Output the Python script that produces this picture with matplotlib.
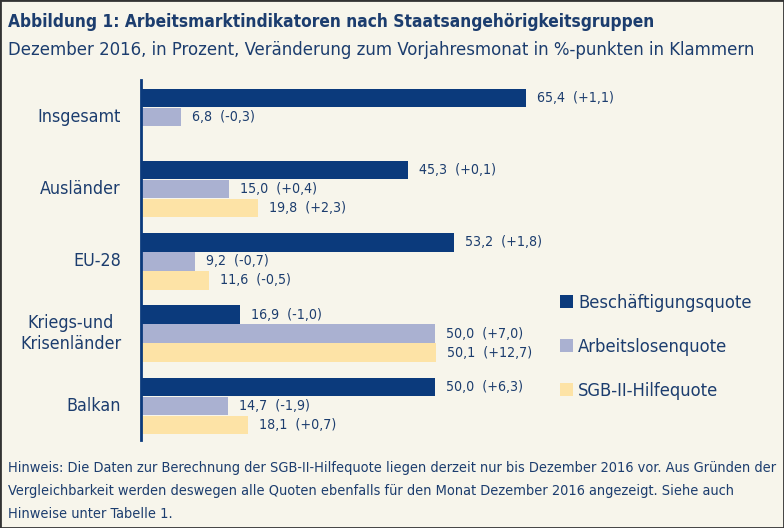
import matplotlib
matplotlib.use("Agg")
import matplotlib.pyplot as plt
from matplotlib.patches import Patch, Rectangle
from matplotlib import font_manager

categories = ["Insgesamt", "Ausländer", "EU-28", "Kriegs-und\nKrisenländer", "Balkan"]
series_names = ["Beschäftigungsquote", "Arbeitslosenquote", "SGB-II-Hilfequote"]
beschaeftigung = [65.4, 45.3, 53.2, 16.9, 50.0]
beschaeftigung_chg = [1.1, 0.1, 1.8, -1.0, 6.3]
arbeitslos = [6.8, 15.0, 9.2, 50.0, 14.7]
arbeitslos_chg = [-0.3, 0.4, -0.7, 7.0, -1.9]
sgb = [None, 19.8, 11.6, 50.1, 18.1]
sgb_chg = [None, 2.3, -0.5, 12.7, 0.7]

title = "Abbildung 1: Arbeitsmarktindikatoren nach Staatsangehörigkeitsgruppen"
subtitle = "Dezember 2016, in Prozent, Veränderung zum Vorjahresmonat in %-punkten in Klammern"
note_lines = ["Hinweis: Die Daten zur Berechnung der SGB-II-Hilfequote liegen derzeit nur bis Dezember 2016 vor. Aus Gründen der",
              "Vergleichbarkeit werden deswegen alle Quoten ebenfalls für den Monat Dezember 2016 angezeigt. Siehe auch",
              "Hinweise unter Tabelle 1."]

colors = ["#0b3a7c", "#aab1d1", "#fde3a6"]
txt = "#1c3d6e"
bg = "#f7f5eb"

entries = font_manager.fontManager.ttflist
stretch = "normal"
fam = "Lato"
if any(f.name == "Liberation Sans Narrow" for f in entries):
    fam = "Liberation Sans Narrow"
elif any(f.name == "DejaVu Sans" and str(f.stretch) in ("condensed", "semi-condensed") for f in entries):
    fam = "DejaVu Sans"
    stretch = "condensed"
plt.rcParams["font.family"] = [fam, "DejaVu Sans"]
plt.rcParams["font.stretch"] = stretch

fig = plt.figure(figsize=(7.84, 5.28), dpi=100, facecolor=bg)
W, H = 784, 528
renderer = fig.canvas.get_renderer()

def fit_size(s, target_w, size0=10, **kw):
    t = fig.text(0, 0, s, fontsize=size0, **kw)
    w = t.get_window_extent(renderer=renderer).width
    t.remove()
    return size0 * target_w / w

ax_l, ax_r, ax_t, ax_b = 141, 560, 80, 440
ax = fig.add_axes([ax_l / W, 1 - ax_b / H, (ax_r - ax_l) / W, (ax_b - ax_t) / H])
ax.set_facecolor(bg)
px_per_unit = (526 - 141) / 65.4
ax.set_xlim(0, (ax_r - ax_l) / px_per_unit)
ax.set_ylim((ax_b - 98) / 19, -(98 - ax_t) / 19)

gstep = 3.8
series = [(beschaeftigung, beschaeftigung_chg), (arbeitslos, arbeitslos_chg), (sgb, sgb_chg)]

def fmt(v):
    return f"{v:.1f}".replace(".", ",")

def fmtc(v):
    return f"{v:+.1f}".replace(".", ",")

val_fs = fit_size("65,4  (+1,1)", 77)
cat_fs = fit_size("Insgesamt", 83)
leg_fs = fit_size("Beschäftigungsquote", 174)
title_fs = fit_size(title, 642, fontweight="bold")
sub_fs = fit_size(subtitle, 744)
note_fs = fit_size(note_lines[0], 769)

offset = 11 / px_per_unit
for g, cat in enumerate(categories):
    for j, (vals, chg) in enumerate(series):
        v = vals[g]
        if v is None:
            continue
        y = g * gstep + j
        ax.barh(y, v, height=0.96, color=colors[j], edgecolor="none")
        ax.text(v + offset, y, f"{fmt(v)}  ({fmtc(chg[g])})", va="center", ha="left",
                fontsize=val_fs, color=txt)
    ax.text(-20 / px_per_unit, g * gstep + 1, cat, ha="right", va="center", multialignment="center",
            fontsize=cat_fs, color=txt, linespacing=1.25)

for s in ["top", "right", "bottom"]:
    ax.spines[s].set_visible(False)
ax.spines["left"].set_color(colors[0])
ax.spines["left"].set_linewidth(2)
ax.set_xticks([])
ax.set_yticks([])

handles = [Patch(facecolor=c, edgecolor="none") for c in colors]
fig.legend(handles, series_names, loc="upper left", bbox_to_anchor=(560 / W, 1 - 294 / H),
           frameon=False, fontsize=leg_fs, labelcolor=txt, handlelength=0.7, handleheight=0.7,
           handletextpad=0.3, labelspacing=1.43, borderaxespad=0, borderpad=0)

fig.text(8 / W, 1 - 22 / H, title, fontsize=title_fs, fontweight="bold", color=txt, va="center", ha="left")
fig.text(8 / W, 1 - 50 / H, subtitle, fontsize=sub_fs, color=txt, va="center", ha="left")
for line, y in zip(note_lines, [468, 491, 514]):
    fig.text(8 / W, 1 - y / H, line, fontsize=note_fs, color=txt, va="center", ha="left")

fig.patches.append(Rectangle((0, 0), 1, 1, transform=fig.transFigure, fill=False,
                             edgecolor="#333333", linewidth=2))

fig.savefig("out.png", dpi=100, facecolor=bg)
